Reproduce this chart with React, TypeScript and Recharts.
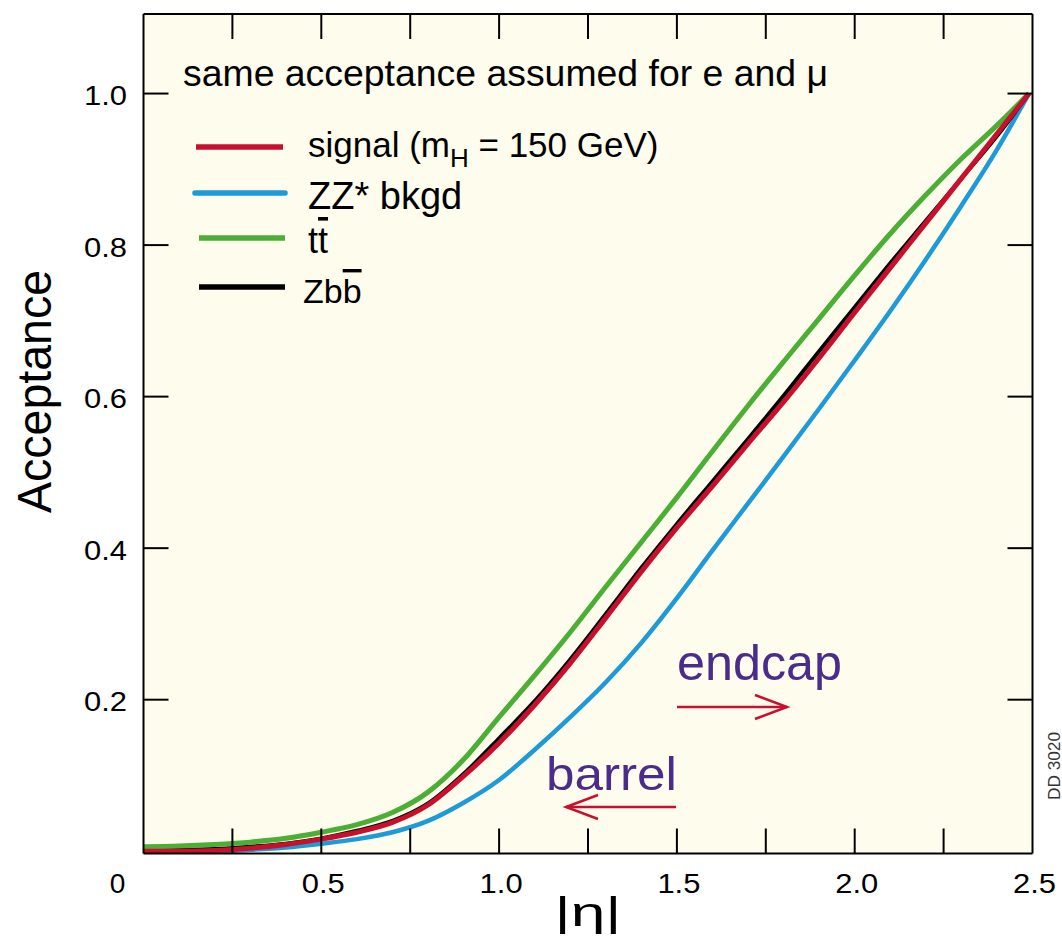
import React from 'react';
import { LineChart, Line, XAxis, YAxis, CartesianGrid, Legend } from 'recharts';

// |eta| sample points
const eta = [0, 0.1, 0.2, 0.3, 0.4, 0.5, 0.6, 0.7, 0.8, 0.9, 1.0, 1.1, 1.2, 1.3, 1.4, 1.5, 1.6, 1.7, 1.8, 1.9, 2.0, 2.1, 2.2, 2.3, 2.4, 2.49];

// acceptance curves
const signal = [0.0, 0.0, 0.001, 0.004, 0.009, 0.016, 0.025, 0.038, 0.061, 0.099, 0.143, 0.193, 0.248, 0.308, 0.369, 0.427, 0.482, 0.538, 0.593, 0.651, 0.711, 0.77, 0.829, 0.888, 0.947, 1.0];
const zzBkgd = [0.0, 0.0, 0.0, 0.002, 0.005, 0.01, 0.016, 0.025, 0.04, 0.064, 0.094, 0.134, 0.177, 0.223, 0.275, 0.334, 0.397, 0.459, 0.521, 0.584, 0.648, 0.713, 0.781, 0.852, 0.926, 1.0];
const ttbar = [0.006, 0.007, 0.009, 0.012, 0.017, 0.025, 0.035, 0.051, 0.078, 0.121, 0.177, 0.232, 0.289, 0.349, 0.408, 0.467, 0.528, 0.588, 0.646, 0.703, 0.76, 0.815, 0.866, 0.914, 0.958, 1.0];
const zbbbar = [0.002, 0.002, 0.003, 0.006, 0.01, 0.017, 0.027, 0.04, 0.063, 0.102, 0.149, 0.198, 0.253, 0.313, 0.374, 0.432, 0.488, 0.544, 0.601, 0.66, 0.718, 0.776, 0.832, 0.888, 0.944, 1.0];

// ticks
const xTicks = [0, 0.25, 0.5, 0.75, 1, 1.25, 1.5, 1.75, 2, 2.25, 2.5];
const xTickLabels = ['0', '', '0.5', '', '1.0', '', '1.5', '', '2.0', '', '2.5'];
const yTicks = [0.2, 0.4, 0.6, 0.8, 1.0];
const yTickLabels = ['0.2', '0.4', '0.6', '0.8', '1.0'];

const rows = eta.map((e, i) => ({ eta: e, signal: signal[i], zz: zzBkgd[i], tt: ttbar[i], zbb: zbbbar[i] }));

const FONT = '"Liberation Sans", Arial, Helvetica, sans-serif';
const W = 1062;
const H = 943;
const RED = '#C8102E';
const BLUE = '#1E9AD6';
const GREEN = '#4CAF35';
const BLACK = '#000000';
const PURPLE = '#4A2C8A';
const BG = '#FEFCEC';
const TICK = 25;

const BottomTick = (props: any) => {
  const { x, y, payload } = props;
  const v = payload.value;
  const idx = xTicks.findIndex((t) => Math.abs(t - v) < 1e-9);
  const lab = idx >= 0 ? xTickLabels[idx] : '';
  const inner = v > 0.001 && v < 2.499;
  return (
    <g>
      {inner && <line x1={x} x2={x} y1={y} y2={y - TICK} stroke="#000" strokeWidth={2} />}
      {lab && (
        <text
          x={x + (v === 0 ? -26 : 2)}
          y={y + 39}
          textAnchor="middle"
          fontFamily={FONT}
          fontSize={28}
          fill="#000"
          {...(lab.length > 1 ? { textLength: 43, lengthAdjust: 'spacingAndGlyphs' } : {})}
        >
          {lab}
        </text>
      )}
    </g>
  );
};

const TopTick = (props: any) => {
  const { x, y, payload } = props;
  const v = payload.value;
  const inner = v > 0.001 && v < 2.499;
  return <g>{inner && <line x1={x} x2={x} y1={y} y2={y + TICK} stroke="#000" strokeWidth={2} />}</g>;
};

const LeftTick = (props: any) => {
  const { x, y, payload } = props;
  const v = payload.value;
  const idx = yTicks.findIndex((t) => Math.abs(t - v) < 1e-9);
  const lab = idx >= 0 ? yTickLabels[idx] : '';
  return (
    <g>
      <line x1={x} x2={x + TICK} y1={y} y2={y} stroke="#000" strokeWidth={2} />
      <text x={x - 16.5} y={y + 11.5} textAnchor="end" fontFamily={FONT} fontSize={28} fill="#000" textLength={43} lengthAdjust="spacingAndGlyphs">
        {lab}
      </text>
    </g>
  );
};

const RightTick = (props: any) => {
  const { x, y } = props;
  return (
    <g>
      <line x1={x} x2={x - TICK} y1={y} y2={y} stroke="#000" strokeWidth={2} />
    </g>
  );
};

const renderLegend = () => (
  <svg width={W} height={H} style={{ position: 'absolute', left: 0, top: 0, overflow: 'visible', pointerEvents: 'none' }}>
    <g fontFamily={FONT} fill="#000">
      <line x1={196} x2={283} y1={147} y2={147} stroke={RED} strokeWidth={5.5} />
      <text x={308} y={157} fontSize={35}>
        signal (m
        <tspan fontSize={26} dy={10}>H</tspan>
        <tspan dy={-10}> = 150 GeV)</tspan>
      </text>
      <line x1={195} x2={285} y1={193} y2={193} stroke={BLUE} strokeWidth={5.5} strokeLinecap="round" />
      <text x={308} y={209} fontSize={38}>ZZ* bkgd</text>
      <line x1={199} x2={285} y1={238} y2={238} stroke={GREEN} strokeWidth={5.5} />
      <text x={308} y={253} fontSize={36}>
        t<tspan style={{ textDecoration: 'overline' }}>t</tspan>
      </text>
      <line x1={199} x2={285} y1={287} y2={287} stroke={BLACK} strokeWidth={5.5} />
      <text x={303} y={303} fontSize={34}>
        Zb<tspan style={{ textDecoration: 'overline' }}>b</tspan>
      </text>
    </g>
  </svg>
);

const Overlay = () => (
  <svg width={W} height={H} style={{ position: 'absolute', left: 0, top: 0, overflow: 'hidden', pointerEvents: 'none' }}>
    <g fontFamily={FONT}>
      <text x={183} y={86} fontSize={37} fill="#000" textLength={645} lengthAdjust="spacingAndGlyphs">
        same acceptance assumed for e and μ
      </text>
      <text x={677} y={680} fontSize={50} fill={PURPLE} textLength={165} lengthAdjust="spacingAndGlyphs">
        endcap
      </text>
      <g stroke={RED} strokeWidth={2.5} fill="none">
        <line x1={677} y1={707} x2={787} y2={707} />
        <polyline points="755,695 787,707 755,719" />
      </g>
      <text x={546} y={790} fontSize={47} fill={PURPLE} textLength={131} lengthAdjust="spacingAndGlyphs">
        barrel
      </text>
      <g stroke={RED} strokeWidth={2.5} fill="none">
        <line x1={566} y1={807} x2={676} y2={807} />
        <polyline points="598,795 566,807 598,819" />
      </g>
      <text x={588} y={926} fontSize={40} fill="#000" textAnchor="middle" textLength={67} lengthAdjust="spacingAndGlyphs">
        |η|
      </text>
      <text
        transform="translate(51,391.5) rotate(-90)"
        x={0}
        y={0}
        fontSize={49}
        fill="#000"
        textAnchor="middle"
        textLength={243}
        lengthAdjust="spacingAndGlyphs"
      >
        Acceptance
      </text>
      <text
        transform="translate(1060,766) rotate(-90)"
        x={0}
        y={0}
        fontSize={16}
        fill="#333"
        textAnchor="middle"
        textLength={68}
        lengthAdjust="spacingAndGlyphs"
      >
        DD 3020
      </text>
    </g>
  </svg>
);

export default function App() {
  return (
    <div style={{ position: 'fixed', left: 0, top: 0, width: W, height: H, overflow: 'hidden', background: '#fff' }}>
      <LineChart width={W} height={H} data={rows} margin={{ top: 13, right: 28.5, bottom: 0, left: 0 }}>
        <CartesianGrid xAxisId="b" yAxisId="l" fill={BG} horizontal={false} vertical={false} stroke="none" />
        <XAxis
          xAxisId="b"
          dataKey="eta"
          type="number"
          domain={[0, 2.5]}
          ticks={xTicks}
          interval={0}
          tickSize={0}
          tickMargin={0}
          tickLine={false}
          axisLine={{ stroke: '#000', strokeWidth: 2 }}
          tick={BottomTick}
          height={89.5}
          allowDataOverflow
        />
        <XAxis
          xAxisId="t"
          dataKey="eta"
          orientation="top"
          type="number"
          domain={[0, 2.5]}
          ticks={xTicks}
          interval={0}
          tickSize={0}
          tickMargin={0}
          tickLine={false}
          axisLine={{ stroke: '#000', strokeWidth: 2 }}
          tick={TopTick}
          height={1}
          allowDataOverflow
        />
        <YAxis
          yAxisId="l"
          type="number"
          domain={[-0.003, 1.105]}
          ticks={yTicks}
          interval={0}
          tickSize={0}
          tickMargin={0}
          tickLine={false}
          axisLine={{ stroke: '#000', strokeWidth: 2 }}
          tick={LeftTick}
          width={143.5}
          allowDataOverflow
        />
        <YAxis
          yAxisId="r"
          orientation="right"
          type="number"
          domain={[-0.003, 1.105]}
          ticks={yTicks}
          interval={0}
          tickSize={0}
          tickMargin={0}
          tickLine={false}
          axisLine={{ stroke: '#000', strokeWidth: 2 }}
          tick={RightTick}
          width={1}
          allowDataOverflow
        />
        <Line xAxisId="b" yAxisId="l" type="monotone" dataKey="zz" name="ZZ* bkgd" stroke={BLUE} strokeWidth={4.5} dot={false} isAnimationActive={false} />
        <Line xAxisId="b" yAxisId="l" type="monotone" dataKey="zbb" name="Zbb" stroke={BLACK} strokeWidth={4} dot={false} isAnimationActive={false} />
        <Line xAxisId="b" yAxisId="l" type="monotone" dataKey="tt" name="tt" stroke={GREEN} strokeWidth={5} dot={false} isAnimationActive={false} />
        <Line xAxisId="b" yAxisId="l" type="monotone" dataKey="signal" name="signal" stroke={RED} strokeWidth={5} dot={false} isAnimationActive={false} />
        <Legend
          layout="vertical"
          align="center"
          verticalAlign="middle"
          content={renderLegend}
          wrapperStyle={{ left: 0, top: 0, width: W, height: H }}
        />
      </LineChart>
      <Overlay />
    </div>
  );
}
